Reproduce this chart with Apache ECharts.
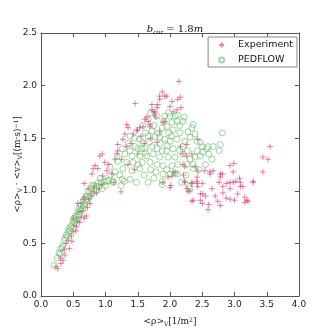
<!DOCTYPE html>
<html>
<head>
<meta charset="utf-8">
<script src="https://cdn.jsdelivr.net/npm/echarts@6/dist/echarts.min.js"></script>
<style>
  html, body { margin: 0; padding: 0; background: #fff; }
  #main { width: 332px; height: 332px; }
</style>
</head>
<body>
<div id="main"></div>
<script>
// values: [density, flow]
var experiment = [
  [0.23,0.28],[0.26,0.26],[0.31,0.31],[0.34,0.34],[0.37,0.39],[0.39,0.50],[0.42,0.53],[0.47,0.57],
  [0.50,0.61],[0.54,0.62],[0.51,0.67],[0.50,0.74],[0.57,0.71],[0.62,0.75],[0.67,0.74],[0.70,0.76],
  [0.59,0.80],[0.65,0.81],[0.57,0.88],[0.62,0.88],[0.65,0.92],[0.67,0.94],[0.74,0.92],[0.78,0.95],
  [0.81,0.99],[0.73,1.02],[0.82,1.04],[0.67,1.07],[0.81,1.21],[1.13,1.08],[1.24,0.99],[0.44,0.45],
  [0.48,0.52],[0.55,0.66],[0.60,0.70],[0.72,0.84],[0.76,0.88],[0.86,0.98],[0.90,1.02],[0.95,1.06],
  [0.30,0.36],[0.36,0.44],
  [0.79,1.16],[0.84,1.24],[0.88,1.21],[0.91,1.33],[0.95,1.35],[0.96,1.14],[0.99,1.27],[1.02,1.19],
  [1.10,1.16],[1.18,1.35],[1.19,1.38],[1.19,1.44],[1.27,1.49],[1.30,1.54],[1.33,1.42],[1.33,1.63],
  [1.35,1.60],[1.46,1.83],[1.49,1.57],[1.53,1.60],[1.58,1.61],[1.61,1.68],[1.64,1.70],[1.66,1.66],
  [1.69,1.63],[1.72,1.77],[1.72,1.82],[1.74,1.75],[1.77,1.75],[1.80,1.79],[1.81,1.82],[1.84,1.87],
  [1.84,1.90],[1.88,1.94],[1.92,1.90],[1.95,1.90],[2.00,1.80],[2.03,1.85],[2.05,1.75],[2.11,1.77],
  [2.12,1.87],[2.14,2.04],[2.16,1.89],[2.17,1.79],[1.89,1.65],[1.92,1.66],
  [1.25,1.30],[1.40,1.45],[1.50,1.35],[1.35,1.25],[1.60,1.45],[1.70,1.50],[1.55,1.52],[1.45,1.20],
  [1.69,1.61],[1.49,1.58],[1.43,1.54],[1.80,1.46],[1.84,1.56],[2.16,1.42],[2.20,1.35],[2.23,1.23],
  [2.05,1.18],[1.97,1.13],[2.43,1.49],[2.26,1.44],[2.26,1.33],[2.34,1.35],[2.20,1.25],[2.39,1.23],
  [1.76,1.72],[1.78,1.70],[1.15,1.30],[1.05,1.25],
  [2.00,1.03],[2.01,1.05],[2.26,1.02],[2.28,0.99],[2.23,1.08],[2.34,1.08],[2.31,1.00],[2.36,0.91],
  [2.34,0.90],[2.47,0.91],[2.50,0.88],[2.43,1.04],[2.51,0.97],[2.60,0.87],[2.59,0.82],[2.74,0.90],
  [2.78,0.86],[2.76,1.08],[2.82,0.98],[2.93,1.02],[2.98,1.08],[3.02,1.09],[2.93,0.92],[3.00,0.91],
  [3.05,0.97],[3.13,1.04],[3.16,0.94],[3.21,0.90],[3.16,0.89],[3.29,1.08],[3.44,1.18],[2.98,1.18],
  [2.78,1.16],[2.62,1.16],[2.42,1.09],[2.50,1.07],[2.03,1.14],[2.08,1.17],[2.47,0.97],[2.93,1.08],
  [2.88,1.07],[2.82,1.04],[3.09,1.04],[3.19,0.91],[2.34,1.07],[2.42,1.07],[1.89,1.08],[3.55,1.42],
  [3.44,1.32],[3.52,1.30],[2.93,1.24],[2.99,1.26],[2.67,1.19],[2.62,1.18],[2.81,1.16],[2.78,1.13],
  [2.43,1.19],[2.54,1.19],[2.42,1.13],[2.23,1.09],[3.29,1.09],[3.09,1.08],[2.55,0.95],[2.70,0.95],
  [2.65,1.02],[2.87,0.93],[3.08,1.12],[2.21,1.15]
];

var pedflow = [
  [0.20,0.29],[0.25,0.36],[0.28,0.41],[0.31,0.45],[0.34,0.48],[0.36,0.53],[0.39,0.58],[0.42,0.61],
  [0.43,0.64],[0.47,0.67],[0.50,0.71],[0.51,0.74],[0.54,0.76],[0.57,0.80],[0.59,0.83],[0.62,0.86],
  [0.65,0.90],[0.70,0.92],[0.73,0.95],[0.74,0.99],[0.78,1.02],[0.82,1.05],[0.88,1.07],[0.93,1.08],
  [0.98,1.09],[1.12,1.08],[1.24,1.05],[1.29,1.09],
  [0.45,0.62],[0.55,0.72],[0.60,0.78],[0.65,0.83],[0.68,0.88],[0.72,0.90],[0.76,0.95],[0.80,0.98],
  [0.85,1.00],[0.90,1.04],[0.95,1.02],[0.52,0.70],[0.58,0.77],[0.62,0.82],[0.38,0.55],[0.41,0.57],
  [0.46,0.65],[0.53,0.73],[0.66,0.86],[0.70,0.95],[0.79,1.05],[0.86,1.04],[0.92,1.12],[1.00,1.05],
  [1.05,1.10],[1.08,1.15],[0.30,0.40],[0.33,0.46],
  [1.80,1.71],[1.92,1.71],[2.00,1.71],[2.08,1.71],[2.11,1.66],[2.03,1.65],[1.95,1.61],[1.88,1.60],
  [2.05,1.58],[1.72,1.57],[1.66,1.52],[1.77,1.51],[1.84,1.51],[1.92,1.49],[2.00,1.47],[2.11,1.49],
  [1.53,1.49],[1.58,1.46],[1.46,1.42],[1.50,1.40],[1.61,1.40],[1.72,1.42],[1.80,1.40],[1.88,1.38],
  [1.95,1.38],[2.05,1.40],[1.38,1.38],[1.26,1.40],[1.30,1.35],[1.41,1.33],[1.53,1.33],[1.64,1.33],
  [1.74,1.35],[1.84,1.32],[1.97,1.32],[2.08,1.32],[1.19,1.28],[1.33,1.27],[1.43,1.27],[1.57,1.27],
  [1.69,1.27],[1.80,1.25],[1.89,1.24],[2.03,1.24],[2.12,1.25],[1.27,1.21],[1.41,1.19],[1.53,1.21],
  [1.15,1.18],[1.07,1.23],[1.02,1.09],[1.12,1.09],[1.26,1.11],[1.38,1.11],[1.88,1.09],[2.00,1.16],
  [2.11,1.16],[1.88,1.06],[2.31,1.02],[1.89,1.16],[2.29,1.04],[2.08,1.17],
  [2.22,1.70],[2.20,1.66],[2.36,1.63],[2.34,1.60],[2.28,1.56],[2.39,1.54],[2.31,1.51],[2.42,1.47],
  [2.47,1.46],[2.59,1.42],[2.67,1.42],[2.78,1.44],[2.76,1.38],[2.81,1.55],[2.57,1.40],[2.51,1.37],
  [2.47,1.33],[2.39,1.32],[2.31,1.30],[2.36,1.25],[2.26,1.25],[2.65,1.30],[2.20,1.35],[2.20,1.42],
  [2.42,1.38],[2.50,1.42],[2.36,1.21],[2.23,1.47],
  [1.62,1.55],[1.68,1.46],[1.75,1.62],[1.85,1.45],[1.98,1.55],[2.15,1.55],[2.15,1.38],[1.70,1.20],
  [1.60,1.15],[1.75,1.12],[1.95,1.20],[2.25,1.15],[1.45,1.50],[1.35,1.45],[1.50,1.25],[1.90,1.66],
  [2.15,1.62],[1.62,1.36],[1.82,1.55],[2.02,1.52],[2.27,1.38],[1.56,1.40],[1.96,1.43],[1.48,1.08],
  [1.66,1.08],[1.78,1.18],[2.18,1.08],[2.45,1.20],[2.55,1.25],[2.60,1.35],[1.22,1.15],[1.18,1.33],
  [1.38,1.52],[1.58,1.62],[1.66,1.68],[1.70,1.74],[1.98,1.74],[2.12,1.72]
];

var seriesNames = ['Experiment', 'PEDFLOW'];
var xTicks = { min: 0, max: 4, step: 0.5 };
var yTicks = { min: 0, max: 2.5, step: 0.5 };

var serif = '"DejaVu Serif", "Liberation Serif", serif';
var sans = '"DejaVu Sans", sans-serif';

function axisBase(t, pos, showLabel) {
  return {
    type: 'value', position: pos, min: t.min, max: t.max, interval: t.step,
    axisLine: { show: true, onZero: false, lineStyle: { color: '#555', width: 1 } },
    axisTick: { show: true, inside: true, length: 4, lineStyle: { color: '#555' } },
    splitLine: { show: false },
    axisLabel: {
      show: showLabel, fontFamily: sans, fontSize: 9, color: '#222', margin: 4,
      showMinLabel: true, showMaxLabel: true,
      formatter: function (v) { return v.toFixed(1); }
    }
  };
}

var nameRich = {
  a: { fontFamily: serif, fontSize: 9, color: '#222' },
  s: { fontFamily: serif, fontSize: 6, color: '#222', verticalAlign: 'bottom', padding: [4, 0, 0, 0] },
  p: { fontFamily: serif, fontSize: 6, color: '#222', verticalAlign: 'top', padding: [0, 0, 4, 0] }
};

var xBottom = axisBase(xTicks, 'bottom', true);
xBottom.name = '{a|<ρ>}{s|V}{a|[1/m}{p|2}{a|]}';
xBottom.nameLocation = 'middle';
xBottom.nameGap = 21;
xBottom.nameMoveOverlap = false;
xBottom.nameTextStyle = { rich: nameRich };
var xTop = axisBase(xTicks, 'top', false);

var yLeft = axisBase(yTicks, 'left', true);
yLeft.name = '{a|<ρ>}{s|V}{a| · <v>}{s|V}{a|[(m·s)}{p|−1}{a|]}';
yLeft.nameLocation = 'middle';
yLeft.nameGap = 18;
yLeft.nameRotate = 90;
yLeft.nameMoveOverlap = false;
yLeft.nameTextStyle = { rich: nameRich };
var yRight = axisBase(yTicks, 'right', false);

var myChart = echarts.init(document.getElementById('main'));
myChart.setOption({
  animation: false,
  backgroundColor: '#fff',
  title: {
    text: '{i|b}{s|cor}{n| = 1.8}{i|m}',
    left: 170, top: 19, textAlign: 'center',
    textStyle: {
      fontWeight: 'normal',
      rich: {
        i: { fontFamily: serif, fontStyle: 'italic', fontWeight: 'normal', fontSize: 10, color: '#111' },
        n: { fontFamily: serif, fontWeight: 'normal', fontSize: 10, color: '#111' },
        s: { fontFamily: serif, fontStyle: 'italic', fontWeight: 'normal', fontSize: 6, color: '#111', verticalAlign: 'bottom', padding: [5, 0, 0, 0] }
      }
    }
  },
  legend: {
    data: seriesNames,
    orient: 'vertical',
    right: 35, top: 37,
    padding: [3, 4, 2, 10],
    itemGap: 5,
    itemWidth: 5, itemHeight: 5,
    borderColor: '#888', borderWidth: 1, borderRadius: 0,
    backgroundColor: '#fff',
    textStyle: { fontFamily: sans, fontSize: 9.5, color: '#111', padding: [0, 0, 0, 9] }
  },
  grid: { left: 41, right: 33, top: 33, bottom: 34 },
  xAxis: [xBottom, xTop],
  yAxis: [yLeft, yRight],
  series: [{
    name: seriesNames[0],
    type: 'scatter',
    symbol: 'path://M0,5L10,5M5,0L5,10',
    symbolSize: 6,
    silent: true,
    itemStyle: { color: 'transparent', borderColor: 'rgba(214,40,100,0.7)', borderWidth: 1 },
    data: experiment
  }, {
    name: seriesNames[1],
    type: 'scatter',
    symbol: 'circle',
    symbolSize: 6,
    silent: true,
    itemStyle: { color: 'transparent', borderColor: 'rgba(90,180,90,0.7)', borderWidth: 1 },
    data: pedflow
  }]
});
</script>
</body>
</html>
